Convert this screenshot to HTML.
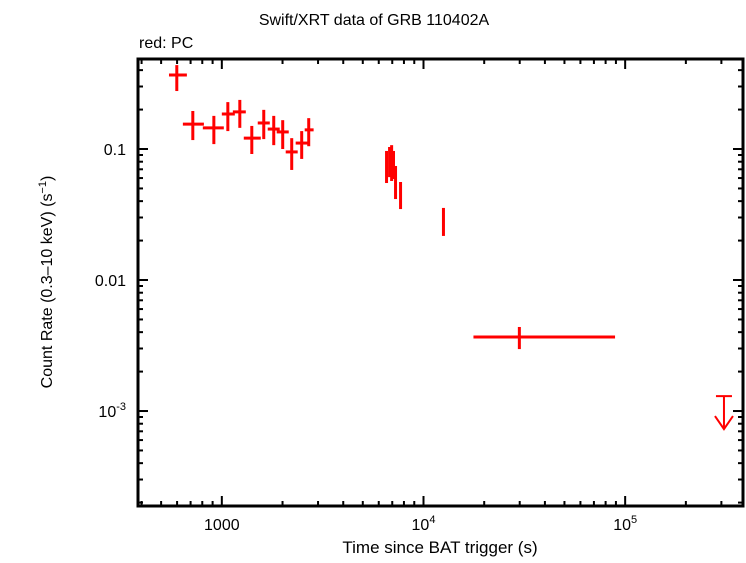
<!DOCTYPE html>
<html><head><meta charset="utf-8"><style>
body{margin:0;background:#fff;}
svg text{font-family:"Liberation Sans",sans-serif;fill:#000;}
</style></head><body>
<svg id="chart" width="746" height="558">
<text x="374" y="25" font-size="16" text-anchor="middle">Swift/XRT data of GRB 110402A</text>
<text x="139" y="48" font-size="16">red: PC</text>
<text transform="translate(52,282) rotate(-90)" font-size="16" text-anchor="middle">Count Rate (0.3–10 keV) (s<tspan dy="-6" font-size="11">−1</tspan><tspan dy="6">)</tspan></text>
<text x="440" y="553" font-size="17" text-anchor="middle">Time since BAT trigger (s)</text>
<g id="axes"></g>
<g id="marks"></g>
</svg>
<script>
const times =   [598,718,913,1071,1228,1408,1614,1809,2004,2221,2489,2697,6558,6788,6950,7101,7268,7696,12560,29880];
const tLo =     [547,641,805,1000,1134,1285,1507,1689,1871,2074,2324,2576,6480,6710,6870,7020,7190,7600,12400,17690];
const tHi =     [671,815,1023,1160,1315,1560,1729,1937,2147,2378,2666,2852,6640,6870,7030,7180,7350,7800,12720,89100];
const rates =   [0.367,0.155,0.145,0.185,0.192,0.121,0.158,0.142,0.135,0.095,0.111,0.140,0.0755,0.0853,0.0839,0.0768,0.058,0.0453,0.0287,0.00367];
const rLo =     [0.277,0.117,0.109,0.137,0.145,0.0916,0.119,0.107,0.1,0.0692,0.084,0.105,0.055,0.061,0.057,0.059,0.0415,0.0348,0.0217,0.00297];
const rHi =     [0.437,0.195,0.179,0.228,0.237,0.150,0.199,0.179,0.166,0.121,0.137,0.172,0.0966,0.1036,0.107,0.0966,0.0742,0.056,0.0355,0.00438];
const ulTime = [309000];
const ulRate = [0.0013];
const xTicks = [1000,10000,100000];
const xTickLabels = ["1000","10^4","10^5"];
const yTicks = [0.1,0.01,0.001];
const yTickLabels = ["0.1","0.01","10^-3"];

const L=138,R=743,T=59,B=506;
const xmin=Math.log10(384), xmax=Math.log10(384000);
const ymax=-0.313, ymin=-3.725;
const X=t=>L+(Math.log10(t)-xmin)/(xmax-xmin)*(R-L);
const Y=v=>T+(ymax-Math.log10(v))/(ymax-ymin)*(B-T);
const NS="http://www.w3.org/2000/svg";
function mk(tag,attrs,parent){const e=document.createElementNS(NS,tag);for(const k in attrs)e.setAttribute(k,attrs[k]);parent.appendChild(e);return e;}
const ax=document.getElementById('axes'), mg=document.getElementById('marks');
const frame=mk('rect',{x:L,y:T,width:R-L,height:B-T,fill:'none',stroke:'#000','stroke-width':3},ax);


function lab(parent,x,y,s,anchor){
  const t=mk('text',{x:x,y:y,'font-size':16,'text-anchor':anchor},parent);
  if(s.indexOf('^')>=0){const p=s.split('^');t.textContent=p[0];const sp=mk('tspan',{dy:-7,'font-size':11},t);sp.textContent=p[1];}
  else t.textContent=s;
  return t;
}
// x ticks
for(let d=2;d<=5;d++){for(let m=1;m<10;m++){const t=m*Math.pow(10,d);const x=X(t);if(x<L+1||x>R-1)continue;const len=m===1?10:5;
  const a=mk('line',{x1:x,x2:x,y1:B,y2:B-len,stroke:'#000','stroke-width':2},ax);
  
  
  const b=mk('line',{x1:x,x2:x,y1:T,y2:T+len,stroke:'#000','stroke-width':2},ax);
  
  }}
xTicks.forEach((t,i)=>{const e=lab(ax,X(t),530,xTickLabels[i],'middle');
  
  });
// y ticks
for(let d=-4;d<=-1;d++){for(let m=1;m<10;m++){const v=m*Math.pow(10,d);const y=Y(v);if(y<T+1||y>B-1)continue;const len=m===1?10:5;
  const a=mk('line',{x1:L,x2:L+len,y1:y,y2:y,stroke:'#000','stroke-width':2},ax);
  
  
  const b=mk('line',{x1:R,x2:R-len,y1:y,y2:y,stroke:'#000','stroke-width':2},ax);
  
  }}
yTicks.forEach((v,i)=>{const e=lab(ax,126,Y(v)+6,yTickLabels[i],'end');
  
  });
// data points
times.forEach((t,i)=>{
  const g=mk('g',{},mg);
  
  
  mk('line',{x1:X(tLo[i]),x2:X(tHi[i]),y1:Y(rates[i]),y2:Y(rates[i]),stroke:'#f00','stroke-width':3},g);
  mk('line',{x1:X(t),x2:X(t),y1:Y(rLo[i]),y2:Y(rHi[i]),stroke:'#f00','stroke-width':3},g);
});
ulTime.forEach((t,i)=>{
  const g=mk('g',{},mg);
  
  
  const x=X(t),y=Y(ulRate[i]);
  mk('line',{x1:x-8,x2:x+8,y1:y,y2:y,stroke:'#f00','stroke-width':2},g);
  mk('line',{x1:x,x2:x,y1:y,y2:y+33,stroke:'#f00','stroke-width':2},g);
  mk('polyline',{points:`${x-9},${y+20} ${x},${y+33} ${x+9},${y+20}`,fill:'none',stroke:'#f00','stroke-width':2},g);
});
</script>
</body></html>
